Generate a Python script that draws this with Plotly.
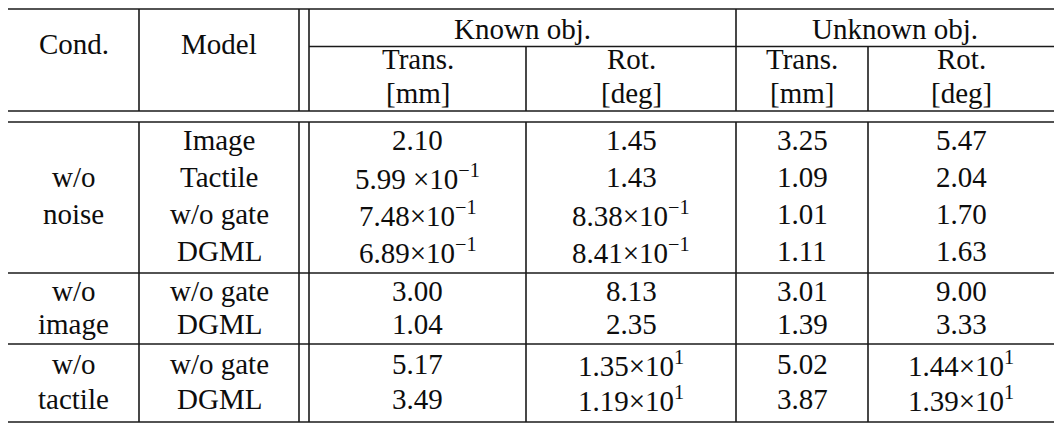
import plotly.graph_objects as go

# table content
cond_groups = [["w/o", "noise"], ["w/o", "image"], ["w/o", "tactile"]]
group_sizes = [4, 2, 2]
models = ["Image", "Tactile", "w/o gate", "DGML", "w/o gate", "DGML", "w/o gate", "DGML"]

known_trans = ["2.10", "5.99 ×10<sup>−1</sup>", "7.48×10<sup>−1</sup>", "6.89×10<sup>−1</sup>",
               "3.00", "1.04", "5.17", "3.49"]
known_rot = ["1.45", "1.43", "8.38×10<sup>−1</sup>", "8.41×10<sup>−1</sup>",
             "8.13", "2.35", "1.35×10<sup>1</sup>", "1.19×10<sup>1</sup>"]
unknown_trans = ["3.25", "1.09", "1.01", "1.11", "3.01", "1.39", "5.02", "3.87"]
unknown_rot = ["5.47", "2.04", "1.70", "1.63", "9.00", "3.33",
               "1.44×10<sup>1</sup>", "1.39×10<sup>1</sup>"]

group_headers = ["Known obj.", "Unknown obj."]
sub_headers = [["Trans.", "[mm]"], ["Rot.", "[deg]"], ["Trans.", "[mm]"], ["Rot.", "[deg]"]]

# layout (coordinates = pixels of the window; page body has an 8px margin)
W, H = 1062, 433
PAD = 8
col_x = [73.5, 219, 417.5, 631, 802, 961]
row_y = [140, 177, 214, 251, 291, 324, 364, 399]
FONT = dict(family="Liberation Serif", size=29, color="#0d0d0d")

fig = go.Figure()


def cell(x, y, t):
    fig.add_annotation(x=x, y=y, text=t, showarrow=False, font=FONT,
                       xanchor="center", yanchor="middle")


# header
cell(col_x[0], 44, "Cond.")
cell(col_x[1], 44, "Model")
for gx, g in zip([522, 895], group_headers):
    cell(gx, 29, g)
for cx, (top, bottom) in zip(col_x[2:], sub_headers):
    cell(cx, 59, top)
    cell(cx, 93, bottom)

# body columns
for cx, col in zip(col_x[1:], [models, known_trans, known_rot, unknown_trans, unknown_rot]):
    for y, t in zip(row_y, col):
        cell(cx, y, t)

# condition labels, centred in their group
start = 0
for lines, n in zip(cond_groups, group_sizes):
    first = start + (n - len(lines)) // 2
    for i, t in enumerate(lines):
        cell(col_x[0], row_y[first + i], t)
    start += n

# rules
LINE = dict(color="#1a1a1a", width=1.6)
x0, x1 = 8, 1054
for y in [9, 111, 122, 273, 344, 422]:
    fig.add_shape(type="line", x0=x0, x1=x1, y0=y, y1=y, line=LINE)
fig.add_shape(type="line", x0=309, x1=x1, y0=46.5, y1=46.5, line=LINE)

head_top = {139: 9, 299: 9, 309: 9, 526: 46.5, 736: 9, 868: 46.5}
for x, top in head_top.items():
    fig.add_shape(type="line", x0=x, x1=x, y0=top, y1=111, line=LINE)
    fig.add_shape(type="line", x0=x, x1=x, y0=122, y1=422, line=LINE)

fig.update_layout(
    width=W - PAD, height=H - PAD, margin=dict(l=0, r=0, t=0, b=0),
    plot_bgcolor="white", paper_bgcolor="white", showlegend=False,
    xaxis=dict(range=[PAD, W], visible=False, fixedrange=True),
    yaxis=dict(range=[H, PAD], visible=False, fixedrange=True),
)
fig.write_html("out.html")
